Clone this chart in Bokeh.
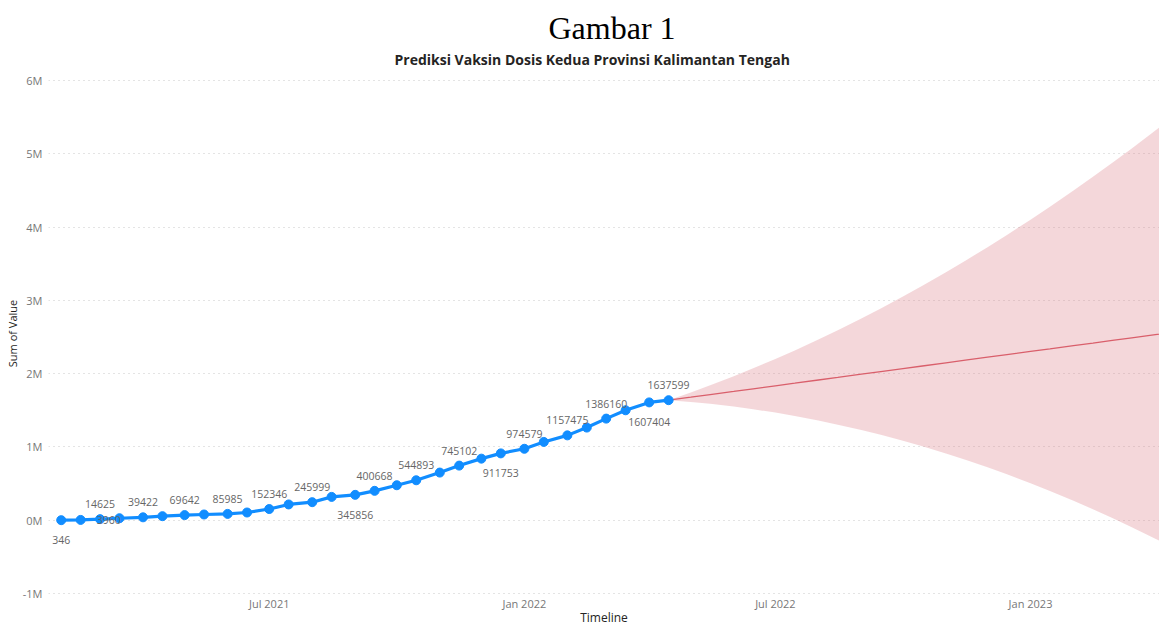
import pandas as pd
from bokeh.plotting import figure
from bokeh.models import Range1d, FixedTicker, Title, ColumnDataSource
from bokeh.embed import file_html
from bokeh.resources import INLINE

# ---------------- data ----------------
dates = ["2021-02-01", "2021-02-15", "2021-03-01", "2021-03-15", "2021-04-01", "2021-04-15",
         "2021-05-01", "2021-05-15", "2021-06-01", "2021-06-15", "2021-07-01", "2021-07-15",
         "2021-08-01", "2021-08-15", "2021-09-01", "2021-09-15", "2021-10-01", "2021-10-15",
         "2021-11-01", "2021-11-15", "2021-12-01", "2021-12-15", "2022-01-01", "2022-01-15",
         "2022-02-01", "2022-02-15", "2022-03-01", "2022-03-15", "2022-04-01", "2022-04-15"]
values = [346, 3960, 14625, 27000, 39422, 55000, 69642, 78000, 85985, 105000,
          152346, 215000, 245999, 318000, 345856, 400668, 477000, 544893, 650000, 745102,
          840000, 911753, 974579, 1068000, 1157475, 1264000, 1386160, 1500000, 1607404, 1637599]

forecast_dates = ["2022-04-15", "2022-05-01", "2022-05-15", "2022-06-01", "2022-06-15",
                  "2022-07-01", "2022-07-15", "2022-08-01", "2022-08-15", "2022-09-01",
                  "2022-09-15", "2022-10-01", "2022-10-15", "2022-11-01", "2022-11-15",
                  "2022-12-01", "2022-12-15", "2023-01-01", "2023-01-15", "2023-02-01",
                  "2023-02-15", "2023-03-01", "2023-03-15", "2023-04-01", "2023-04-15"]
forecast = [1637599, 1678000, 1714000, 1757000, 1793000, 1834000, 1869000, 1913000, 1948000,
            1992000, 2027000, 2068000, 2104000, 2147000, 2183000, 2224000, 2259000, 2303000,
            2338000, 2382000, 2417000, 2453000, 2489000, 2532000, 2568000]
forecast_upper = [1637599, 1743000, 1840000, 1964000, 2072000, 2200000, 2317000, 2466000, 2592000,
                  2753000, 2889000, 3052000, 3199000, 3383000, 3541000, 3726000, 3892000, 4101000,
                  4277000, 4499000, 4685000, 4876000, 5073000, 5316000, 5523000]
forecast_lower = [1637599, 1613000, 1588000, 1550000, 1514000, 1468000, 1421000, 1360000, 1304000,
                  1231000, 1165000, 1084000, 1009000, 911000, 825000, 722000, 626000, 505000,
                  399000, 265000, 149000, 30000, -95000, -252000, -387000]

# which points carry a data label (index into values)
labeled_idx = [0, 1, 2, 4, 6, 8, 10, 12, 14, 15, 17, 19, 21, 22, 24, 26, 28, 29]

y_ticks = [-1000000, 0, 1000000, 2000000, 3000000, 4000000, 5000000, 6000000]
y_tick_labels = ["-1M", "0M", "1M", "2M", "3M", "4M", "5M", "6M"]
x_tick_dates = ["2021-07-01", "2022-01-01", "2022-07-01", "2023-01-01"]
x_tick_labels = ["Jul 2021", "Jan 2022", "Jul 2022", "Jan 2023"]

title_main = "Gambar 1"
title_sub = "Prediksi Vaksin Dosis Kedua Provinsi Kalimantan Tengah"
x_title = "Timeline"
y_title = "Sum of Value"

# ---------------- styling ----------------
label_pos = ["below", "right", "above", "above", "above", "above", "above", "above", "below",
             "above", "above", "above", "below", "above", "above", "above", "below", "above"]
offsets = {"above": (0, -15, "center"), "below": (0, 20, "center"), "right": (16, 0, "left")}

BLUE = "#118DFF"
FONT = "Open Sans"

x = pd.to_datetime(dates)
fx = pd.to_datetime(forecast_dates)

p = figure(width=1159, height=628, x_axis_type="datetime", output_backend="svg",
           toolbar_location=None, title=None,
           min_border_left=48, min_border_right=0, min_border_top=70, min_border_bottom=31,
           x_range=Range1d(pd.Timestamp("2021-01-22 20:00"), pd.Timestamp("2023-04-04")),
           y_range=Range1d(-1041000, 6136000))
p.outline_line_color = None
p.background_fill_color = "white"
p.border_fill_color = "white"

# titles
sub = Title(text=title_sub, text_font=FONT, text_font_size="14px", text_font_style="bold",
            text_color="#252423", align="left", offset=346, standoff=4)
main = Title(text=title_main, text_font="Liberation Serif", text_font_size="32px",
             text_font_style="normal", text_color="black", align="left", offset=500, standoff=0)
p.add_layout(sub, "above")
p.add_layout(main, "above")

# forecast band + line
p.varea(x=fx, y1=forecast_lower, y2=forecast_upper, fill_color="#DC7A86", fill_alpha=0.3)
p.line(fx, forecast, line_color="#D95F6B", line_width=1.3)

# actual series
p.line(x, values, line_color=BLUE, line_width=3.2)
p.scatter(x, values, size=9, fill_color=BLUE, line_color=BLUE)

# data labels
lx, ly, lt, xo, yo, al = [], [], [], [], [], []
for i, pos in zip(labeled_idx, label_pos):
    dx, dy, a = offsets[pos]
    lx.append(x[i]); ly.append(values[i]); lt.append(str(values[i]))
    xo.append(dx); yo.append(dy); al.append(a)
src = ColumnDataSource(dict(x=lx, y=ly, t=lt, xo=xo, yo=yo, al=al))
p.text(x="x", y="y", text="t", x_offset="xo", y_offset="yo", text_align="al",
       text_baseline="middle", text_font_size="10.5px", text_color="#666666",
       text_font={"value": FONT}, source=src)

# axes
p.yaxis.ticker = FixedTicker(ticks=y_ticks)
p.yaxis.major_label_overrides = {t: l for t, l in zip(y_ticks, y_tick_labels)}
x_ms = [pd.Timestamp(d).value // 10**6 for d in x_tick_dates]
p.xaxis.ticker = FixedTicker(ticks=x_ms)
p.xaxis.major_label_overrides = {t: l for t, l in zip(x_ms, x_tick_labels)}

for ax in (p.xaxis[0], p.yaxis[0]):
    ax.axis_line_color = None
    ax.major_tick_line_color = None
    ax.minor_tick_line_color = None
    ax.major_tick_out = 0
    ax.major_tick_in = 0
    ax.minor_tick_out = 0
    ax.minor_tick_in = 0
    ax.major_label_text_font = FONT
    ax.major_label_text_font_size = "11px"
    ax.major_label_text_color = "#777777"
    ax.axis_label_text_font = FONT
    ax.axis_label_text_font_style = "normal"
    ax.axis_label_text_color = "#252423"
    ax.axis_label_standoff = 0

p.xaxis.axis_label = x_title
p.xaxis.axis_label_text_font_size = "12px"
p.xaxis.major_label_standoff = -1
p.xaxis.axis_label_standoff = -5
p.yaxis.axis_label = y_title
p.yaxis.axis_label_text_font_size = "11px"
p.yaxis.major_label_standoff = 6

p.xgrid.visible = False
p.ygrid.grid_line_color = "#C8C8C8"
p.ygrid.grid_line_dash = "1 4"
p.ygrid.grid_line_width = 1

open("out.html", "w").write(file_html(p, INLINE))
